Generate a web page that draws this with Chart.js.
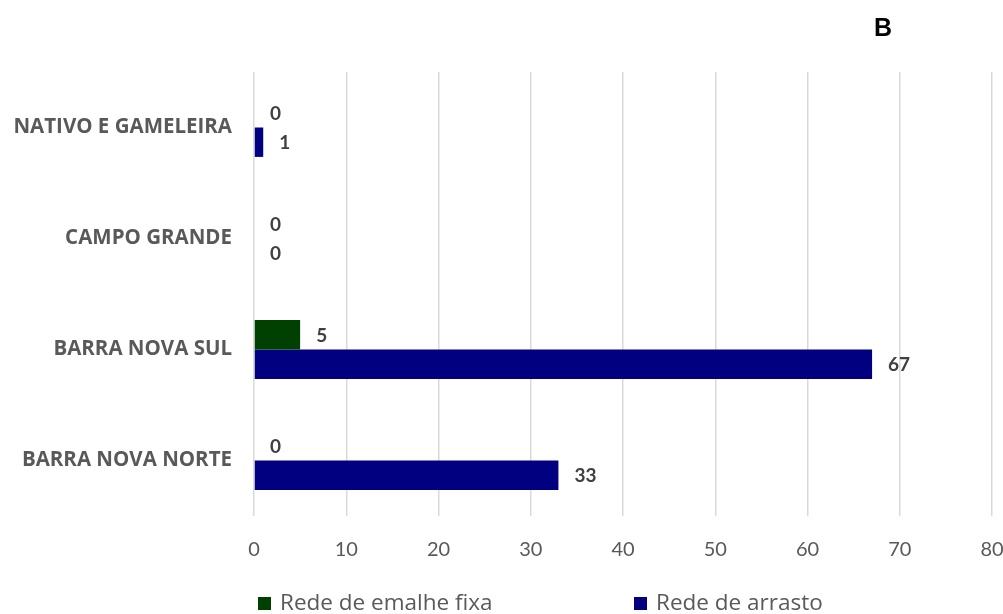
<!DOCTYPE html>
<html><head><meta charset="utf-8">
<script src="https://cdn.jsdelivr.net/npm/chart.js@4"></script>
<style>html,body{margin:0;padding:0;background:#fff}#wrap{width:1003px;height:614px;position:relative}</style>
</head><body><div id="wrap"><canvas id="c" width="1003" height="614"></canvas></div>
<script>
const categories = ['NATIVO E GAMELEIRA', 'CAMPO GRANDE', 'BARRA NOVA SUL', 'BARRA NOVA NORTE'];
const seriesNames = ['Rede de emalhe fixa', 'Rede de arrasto'];
const emalheFixa = [0, 0, 5, 0];
const arrasto = [1, 0, 67, 33];
const xTicks = [0, 10, 20, 30, 40, 50, 60, 70, 80];
const panelTitle = 'B';
const colors = ['#004000', '#000080'];
const FONT = 'Lato, "Open Sans", sans-serif';
const WIDE = '"Open Sans", Lato, sans-serif';

const labelPlugin = {
  id: 'valueLabels',
  afterDatasetsDraw(chart) {
    const ctx = chart.ctx;
    ctx.save();
    ctx.font = 'bold 19px ' + FONT;
    ctx.fillStyle = '#404040';
    ctx.textAlign = 'left';
    ctx.textBaseline = 'middle';
    chart.data.datasets.forEach((ds, di) => {
      const meta = chart.getDatasetMeta(di);
      meta.data.forEach((el, i) => {
        ctx.fillText(String(ds.data[i]), el.x + 16, el.y + 1);
      });
    });
    ctx.restore();
  },
  afterDraw(chart) {
    const ctx = chart.ctx;
    ctx.save();
    ctx.fillStyle = '#000';
    ctx.font = 'bold 25px "Liberation Sans", Arial, sans-serif';
    ctx.textAlign = 'center';
    ctx.textBaseline = 'middle';
    ctx.fillText(panelTitle, 883, 29);
    // legend
    const items = [[258, 0], [634, 1]];
    ctx.font = '22.5px ' + WIDE;
    ctx.textAlign = 'left';
    items.forEach(([x, k]) => {
      ctx.fillStyle = colors[k];
      ctx.fillRect(x, 597, 13, 13);
      ctx.fillStyle = '#595959';
      ctx.fillText(seriesNames[k], x + 22, 604);
    });
    ctx.restore();
  }
};

new Chart(document.getElementById('c'), {
  type: 'bar',
  data: {
    labels: categories,
    datasets: [
      { label: seriesNames[0], data: emalheFixa, backgroundColor: colors[0], categoryPercentage: 0.53, barPercentage: 1 },
      { label: seriesNames[1], data: arrasto, backgroundColor: colors[1], categoryPercentage: 0.53, barPercentage: 1 }
    ]
  },
  options: {
    indexAxis: 'y',
    responsive: false,
    animation: false,
    layout: { padding: { top: 72, right: 11, bottom: 48, left: 0 } },
    plugins: { legend: { display: false }, tooltip: { enabled: false } },
    scales: {
      x: {
        min: 0, max: 80,
        afterBuildTicks(s) { s.ticks = xTicks.map(v => ({ value: v })); },
        afterFit(s) { s.height = 50; s.paddingRight = 0; s.paddingLeft = 0; },
        grid: { color: '#d9d9d9', lineWidth: 1.5, drawTicks: false },
        border: { display: false },
        ticks: { padding: 22, color: '#595959', font: { family: FONT, size: 20 } }
      },
      y: {
        afterFit(s) { s.width = 254; s.paddingTop = 0; s.paddingBottom = 0; },
        grid: { display: false, drawTicks: false },
        border: { display: false },
        ticks: { padding: 22, color: '#595959', font: { family: WIDE, size: 20.5, weight: 'bold' } }
      }
    }
  },
  plugins: [labelPlugin]
});
</script>
</body></html>
